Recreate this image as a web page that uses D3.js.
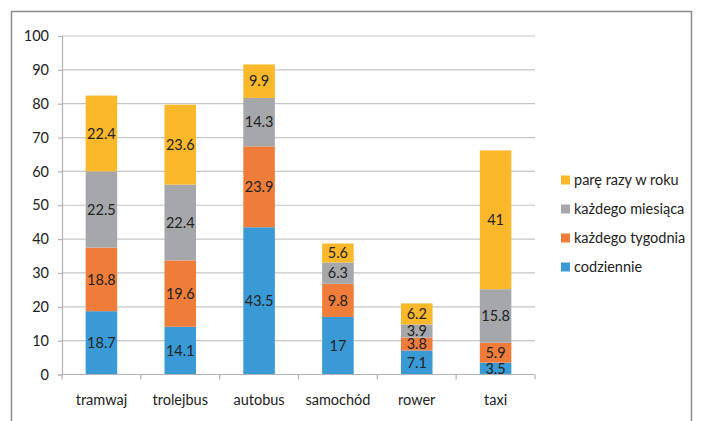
<!DOCTYPE html>
<html>
<head>
<meta charset="utf-8">
<script src="https://cdn.jsdelivr.net/npm/d3@7/dist/d3.min.js"></script>
<style>
  body { margin: 0; background: #fff; }
  svg text { font-family: Lato, "Open Sans", sans-serif; fill: #222; }
</style>
</head>
<body>
<svg id="chart" width="701" height="421"></svg>
<script>
// Categories and series values
const categories = ['tramwaj', 'trolejbus', 'autobus', 'samochód', 'rower', 'taxi'];
const codziennie = [18.7, 14.1, 43.5, 17, 7.1, 3.5];
const tygodnia = [18.8, 19.6, 23.9, 9.8, 3.8, 5.9];
const miesiaca = [22.5, 22.4, 14.3, 6.3, 3.9, 15.8];
const roku = [22.4, 23.6, 9.9, 5.6, 6.2, 41];
const seriesNames = ['codziennie', 'każdego tygodnia', 'każdego miesiąca', 'parę razy w roku'];
const yTicks = [0, 10, 20, 30, 40, 50, 60, 70, 80, 90, 100];

const colors = ['#3a9ad6', '#f07c3a', '#a5a7aa', '#fbb82b'];

const rows = categories.map((c, i) => ({
  cat: c,
  s0: codziennie[i], s1: tygodnia[i], s2: miesiaca[i], s3: roku[i]
}));

const svg = d3.select('#chart');

// outer frame
svg.append('rect')
  .attr('x', 11.5).attr('y', 11.5)
  .attr('width', 680).attr('height', 420)
  .attr('fill', 'none')
  .attr('stroke', '#8a8a8a')
  .attr('stroke-width', 1.5);

const x = d3.scaleBand()
  .domain(categories)
  .range([62, 535])
  .paddingInner(0.6)
  .paddingOuter(0.3);

const y = d3.scaleLinear()
  .domain([0, 100])
  .range([374.5, 36]);

// gridlines
svg.append('g')
  .selectAll('line')
  .data(yTicks.slice(1))
  .enter()
  .append('line')
  .attr('x1', 62).attr('x2', 535)
  .attr('y1', d => y(d)).attr('y2', d => y(d))
  .attr('stroke', '#c4c6c8')
  .attr('stroke-width', 1.2);

// y axis
let y_axis = d3.axisLeft(y)
  .tickValues(yTicks)
  .tickSize(4)
  .tickPadding(9);
let gy = svg.append('g')
  .attr('transform', 'translate(62, 0)')
  .call(y_axis);
gy.select('.domain').attr('stroke', '#b0b2b4').attr('stroke-width', 1.2);
gy.selectAll('.tick line').attr('stroke', '#b0b2b4').attr('stroke-width', 1.2);
gy.selectAll('.tick text')
  .attr('font-size', '14.5px')
  .attr('fill', '#222')
  .style('font-family', 'Lato, sans-serif');

// stacked bars
const stack = d3.stack().keys(['s0', 's1', 's2', 's3']);
const layers = stack(rows);

const gLayers = svg.append('g')
  .selectAll('g')
  .data(layers)
  .enter()
  .append('g')
  .attr('fill', (d, i) => colors[i]);

gLayers.selectAll('rect')
  .data(d => d)
  .enter()
  .append('rect')
  .attr('x', d => x(d.data.cat))
  .attr('width', x.bandwidth())
  .attr('y', d => y(d[1]))
  .attr('height', d => y(d[0]) - y(d[1]));

gLayers.selectAll('text')
  .data(d => d)
  .enter()
  .append('text')
  .attr('x', d => x(d.data.cat) + x.bandwidth() / 2)
  .attr('y', d => (y(d[0]) + y(d[1])) / 2)
  .attr('dy', '0.36em')
  .attr('text-anchor', 'middle')
  .attr('font-size', '14.5px')
  .text(d => d3.format('')(+(d[1] - d[0]).toFixed(1)));

// x axis
const step = x.step();
const boundaries = d3.range(categories.length + 1).map(i => 62 + i * (473 / categories.length));
let gx = svg.append('g');
gx.append('line')
  .attr('x1', 62).attr('x2', 535)
  .attr('y1', y(0)).attr('y2', y(0))
  .attr('stroke', '#b0b2b4').attr('stroke-width', 1.2);
gx.selectAll('line.tk')
  .data(boundaries)
  .enter()
  .append('line')
  .attr('class', 'tk')
  .attr('x1', d => d).attr('x2', d => d)
  .attr('y1', y(0)).attr('y2', y(0) + 5)
  .attr('stroke', '#b0b2b4').attr('stroke-width', 1.2);
gx.selectAll('text')
  .data(categories)
  .enter()
  .append('text')
  .attr('x', d => x(d) + x.bandwidth() / 2)
  .attr('y', 405)
  .attr('text-anchor', 'middle')
  .attr('font-size', '14.5px')
  .text(d => d);

// legend (top to bottom: reversed series order)
const legendItems = seriesNames.map((n, i) => ({ name: n, color: colors[i] })).reverse();
let lg = svg.append('g')
  .selectAll('g')
  .data(legendItems)
  .enter()
  .append('g')
  .attr('transform', (d, i) => `translate(561, ${180 + i * 29})`);
lg.append('rect')
  .attr('x', 0).attr('y', -4.5)
  .attr('width', 9).attr('height', 9)
  .attr('fill', d => d.color);
lg.append('text')
  .attr('x', 13)
  .attr('y', 0)
  .attr('dy', '0.36em')
  .attr('font-size', '14.5px')
  .text(d => d.name);
</script>
</body>
</html>
